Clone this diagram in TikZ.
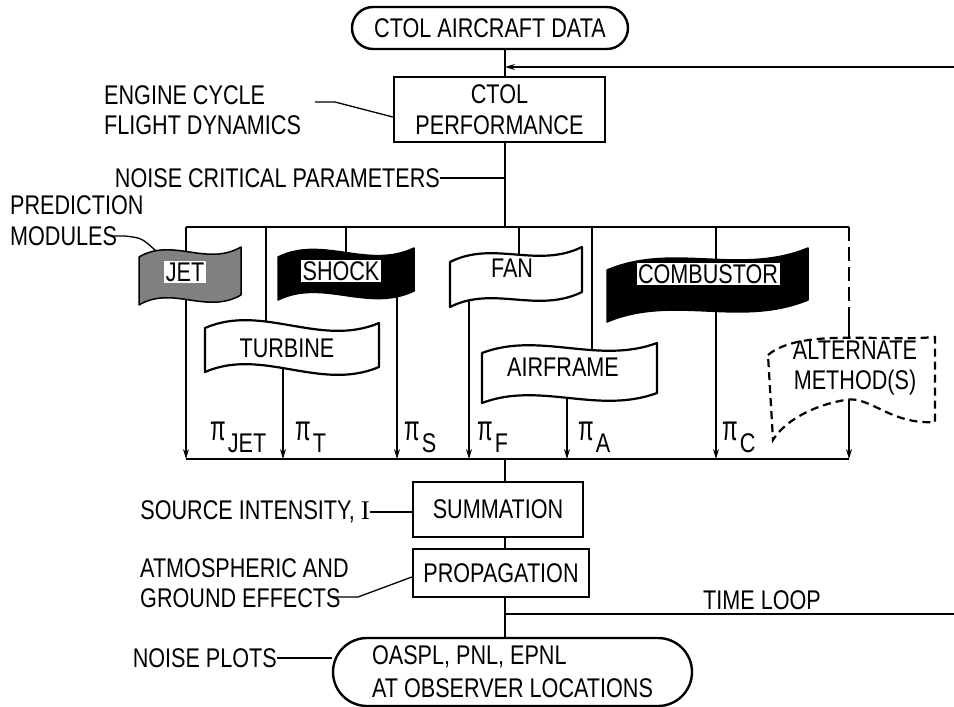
\documentclass[tikz,border=0pt]{standalone}
\usepackage{fontspec}
\setmainfont{Liberation Sans}[FakeStretch=0.8]
\newfontfamily\serifI{Liberation Serif}
\usepackage{graphicx}
\usetikzlibrary{arrows.meta,shapes.misc,calc}
\newcommand\drawflag[7]{\draw[#7] (#1,#3) .. controls ({#1+0.33*(#2-#1)},{#3-#6}) and ({#1+0.66*(#2-#1)},{#4+#6}) .. (#2,#4) -- (#2,{#4+#5}) .. controls ({#1+0.66*(#2-#1)},{#4+#5+#6}) and ({#1+0.33*(#2-#1)},{#3+#5-#6}) .. (#1,{#3+#5}) -- cycle;}
\newcommand\piS[1]{\scalebox{1.05}[1.3]{π}\kern2pt\raisebox{-12pt}{#1}}
\tikzset{
 ln/.style={line width=1.3pt},
 arr/.style={ln,-{Stealth[length=10pt,width=6pt]}},
 boxx/.style={draw,line width=2.4pt,inner sep=0pt,align=center},
 stad/.style={draw,line width=2.4pt,rounded rectangle,inner sep=0pt,align=center},
 lbl/.style={inner sep=0pt,align=left},
 flagw/.style={draw,line width=2.2pt,fill=white,line join=round},
 flagd/.style={draw,line width=1.5pt,line join=round},
 tag/.style={fill=white,inner sep=1.5pt},
}
\begin{document}
\begin{tikzpicture}[x=1pt,y=-1pt,font=\fontsize{27}{30}\selectfont]
\useasboundingbox (0,0) rectangle (954,707);
% top
\node[stad,minimum width=276pt,minimum height=42pt] (data) at (490,28) {CTOL AIRCRAFT DATA};
\node[boxx,minimum width=211pt,minimum height=65pt] (perf) at (499.5,109.5) {CTOL\\[1pt]PERFORMANCE};
\coordinate (spine) at (505,0);
\draw[ln] (data.south -| spine) -- (perf.north -| spine);
\coordinate (fb) at (954,67);
\draw[arr] (fb) -- (fb -| spine);
\coordinate (busTL) at (186,227); \coordinate (busTR) at (849,227);
\coordinate (busBL) at (186,459); \coordinate (busBR) at (849,459);
\draw[ln] (perf.south -| spine) -- (busTL -| spine);
\draw[ln] (busTL) -- (busTR);
\draw[ln] (busBL) -- (busBR);
% left labels
\node[lbl,anchor=west] (eng) at (104,110.5) {ENGINE CYCLE\\FLIGHT DYNAMICS};
\coordinate (engL) at (315,102);
\draw[ln] (engL) -- (335,102) -- ($(perf.west)+(0,7.5)$);
\node[lbl,anchor=east] (ncp) at (440,178) {NOISE CRITICAL PARAMETERS};
\draw[ln] (ncp.east) -- (ncp.east -| spine);
\node[lbl,anchor=west] (pm) at (10,220.5) {PREDICTION\\[1pt]MODULES};
\coordinate (pmE) at (113,236);
\draw[ln] (pmE) -- ++(12,0) .. controls (142,238) .. (157,252);
% module lines
\foreach \x/\a/\b in {186/227/459, 283/360/459, 397/275/459, 469/275/459, 567/380/459, 716/227/459, 849/390/459}
  \draw[arr] (\x,\a) -- (\x,\b);
\foreach \x/\a/\b in {266/227/340, 346/227/270, 519/227/270, 592/227/370}
  \draw[ln] (\x,\a) -- (\x,\b);
\draw[ln,dash pattern=on 14pt off 6pt] (849,227) -- (849,318);
\draw[ln] (849,318) -- (849,345);
% flags
\drawflag{139}{241}{257}{247}{48}{20}{flagd,fill=black!50}
\drawflag{278}{414}{257}{248}{43}{22}{flagd,fill=black}
\drawflag{205}{379}{328}{323}{44}{25}{flagw}
\drawflag{450}{582}{262}{247}{45}{22}{flagw}
\drawflag{482}{657}{353}{343}{50}{22}{flagw}
\drawflag{607}{808}{270}{248}{52}{28}{flagd,fill=black}
\draw[line width=2.2pt,fill=white,dash pattern=on 8pt off 5pt] (768,355) .. controls (800,328) and (880,342) .. (935,337) -- (935,422) .. controls (890,425) and (870,395) .. (845,400) .. controls (815,405) and (785,420) .. (773,440) -- cycle;
\node[tag] (jet) at (185,272) {JET};
\node[tag] (shock) at (341,271) {SHOCK};
\node[tag] (comb) at (708,274) {COMBUSTOR};
\node[lbl] (turb) at (287,348) {TURBINE};
\node[lbl] (fan) at (512,268) {FAN};
\node[lbl] (airf) at (563,367) {AIRFRAME};
\node[lbl,align=center] (alt) at (855,368) {ALTERNATE\\METHOD(S)};
% pi labels
\foreach \x/\s/\n in {210/JET/pj, 295/T/pt, 404/S/ps, 477/F/pf, 578/A/pa, 722/C/pc}
  \node[lbl,anchor=base west] (\n) at (\x,440) {\piS{\s}};
% bottom
\node[boxx,minimum width=170pt,minimum height=55pt] (sum) at (498,509.5) {SUMMATION};
\node[boxx,minimum width=176pt,minimum height=48pt] (prop) at (501,573) {PROPAGATION};
\node[stad,minimum width=359pt,minimum height=68pt,align=left] (out) at (512.5,672) {OASPL, PNL, EPNL\\[3pt]AT OBSERVER LOCATIONS};
\draw[ln] (busBL -| spine) -- (sum.north -| spine);
\draw[ln] (sum.south -| spine) -- (prop.north -| spine);
\draw[ln] (prop.south -| spine) -- (out.north -| spine);
\coordinate (tl) at (505,614); \coordinate (tlR) at (954,614);
\draw[ln] (tl) -- (tlR);
\node[lbl] (tloop) at (762,600) {TIME LOOP};
\node[lbl,anchor=east] (src) at (370,512) {SOURCE INTENSITY, {\serifI I}};
\draw[ln] (src.east) -- (sum.west |- src.east);
\node[lbl,anchor=west] (atm) at (140,583) {ATMOSPHERIC AND\\GROUND EFFECTS};
\coordinate (atmE) at (333,597);
\draw[ln] (atmE) -- (358,597) -- ($(prop.west)+(0,4)$);
\node[lbl,anchor=east] (np) at (277,658) {NOISE PLOTS};
\draw[ln] (np.east) -- (out.west |- np.east);
\end{tikzpicture}
\end{document}
